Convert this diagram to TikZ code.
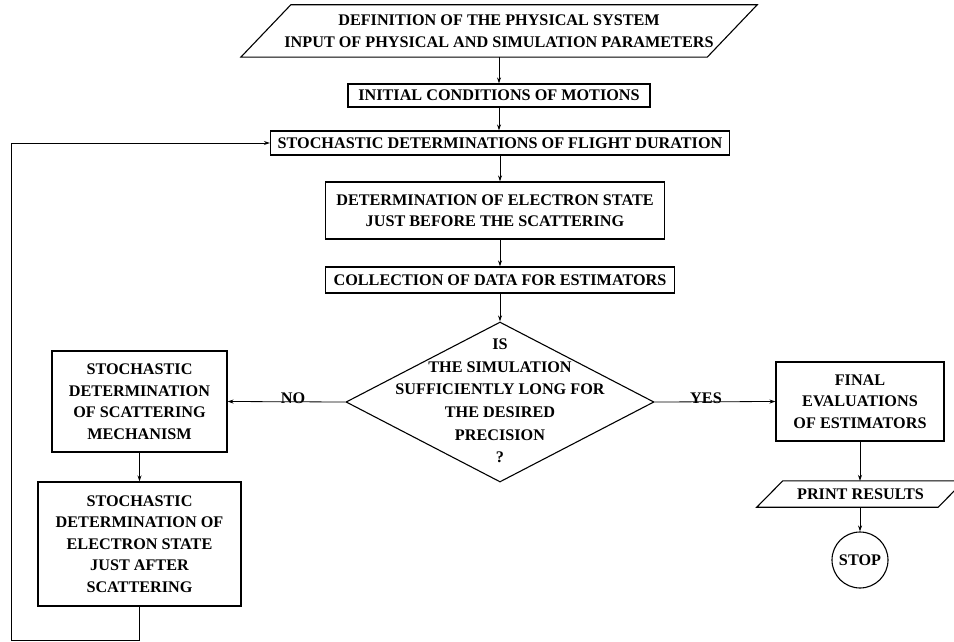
\documentclass[tikz,border=0pt]{standalone}
\usepackage{fontspec}
\setmainfont{Liberation Serif}
\usetikzlibrary{shapes.geometric,arrows.meta}
\begin{document}
\begin{tikzpicture}[x=1pt,y=-1pt,
  font=\bfseries\fontsize{16.2}{21.5}\selectfont,
  box/.style={draw, line width=1.1pt, inner sep=0pt, align=center},
  plain/.style={inner sep=0pt, align=center},
  outl/.style={line width=1.1pt},
  arr/.style={-{Stealth[length=6pt,width=4pt]}, line width=0.8pt}]
\useasboundingbox (0,0) rectangle (954,642);

% input parallelogram
\node[plain, minimum width=466pt, minimum height=52pt] (inp) at (499,31)
  {DEFINITION OF THE PHYSICAL SYSTEM\\INPUT OF PHYSICAL AND SIMULATION PARAMETERS};
\draw[outl] ([xshift=25pt]inp.north west) -- ([xshift=25pt]inp.north east)
  -- ([xshift=-25pt]inp.south east) -- ([xshift=-25pt]inp.south west) -- cycle;

\node[box, minimum width=302pt, minimum height=23pt] (init) at (499,95.5)
  {INITIAL CONDITIONS OF MOTIONS};
\node[box, minimum width=459pt, minimum height=24pt] (stoch) at (500,143)
  {STOCHASTIC DETERMINATIONS OF FLIGHT DURATION};
\node[box, minimum width=339pt, minimum height=57pt] (det) at (495,210.5)
  {DETERMINATION OF ELECTRON STATE\\JUST BEFORE THE SCATTERING};
\node[box, minimum width=349pt, minimum height=26pt] (coll) at (500,280)
  {COLLECTION OF DATA FOR ESTIMATORS};

% decision
\node[draw, diamond, line width=1.1pt, inner sep=0pt, minimum width=308pt, minimum height=160pt] (dec) at (500,402) {};
\node[plain, font=\bfseries\fontsize{16.2}{22.6}\selectfont] (dtext) at (500,401)
  {IS\\THE SIMULATION\\SUFFICIENTLY LONG FOR\\THE DESIRED\\PRECISION\\?};

% left column
\node[box, minimum width=175pt, minimum height=101pt] (mech) at (139.5,401.5)
  {STOCHASTIC\\DETERMINATION\\OF SCATTERING\\MECHANISM};
\node[box, minimum width=203pt, minimum height=124pt] (after) at (139.5,544)
  {STOCHASTIC\\DETERMINATION OF\\ELECTRON STATE\\JUST AFTER\\SCATTERING};

% right column
\node[box, minimum width=168pt, minimum height=79pt] (final) at (860,401.5)
  {FINAL\\EVALUATIONS\\OF ESTIMATORS};
\node[plain, minimum width=181pt, minimum height=26pt] (print) at (860.5,494)
  {PRINT RESULTS};
\draw[outl] ([xshift=13pt]print.north west) -- ([xshift=13pt]print.north east)
  -- ([xshift=-13pt]print.south east) -- ([xshift=-13pt]print.south west) -- cycle;
\node[draw, circle, line width=1.1pt, inner sep=0pt, minimum size=56pt] (stop) at (860,560) {STOP};

% labels
\node[plain, anchor=base] (no) at (293,403) {NO};
\node[plain, anchor=base] (yes) at (706,403) {YES};

% connectors
\draw[arr] (inp.south) -- (init.north);
\draw[arr] (init.south) -- (init.south |- stoch.north);
\draw[arr] (stoch.south) -- (stoch.south |- det.north);
\draw[arr] (stoch.south |- det.south) -- (stoch.south |- coll.north);
\draw[arr] (coll.south) -- (dec.north);
\draw[arr] (dec.west) -- (mech.east);
\draw[arr] (dec.east) -- (final.west);
\draw[arr] (mech.south) -- (after.north);
\draw[arr] (final.south) -- (final.south |- print.north);
\draw[arr] (stop.north |- print.south) -- (stop.north);
\coordinate (c1) at (139.5,640);
\coordinate (c2) at (11,640);
\coordinate (c3) at (11,143);
\draw[arr] (after.south) -- (c1) -- (c2) -- (c3) -- (stoch.west);
\end{tikzpicture}
\end{document}
